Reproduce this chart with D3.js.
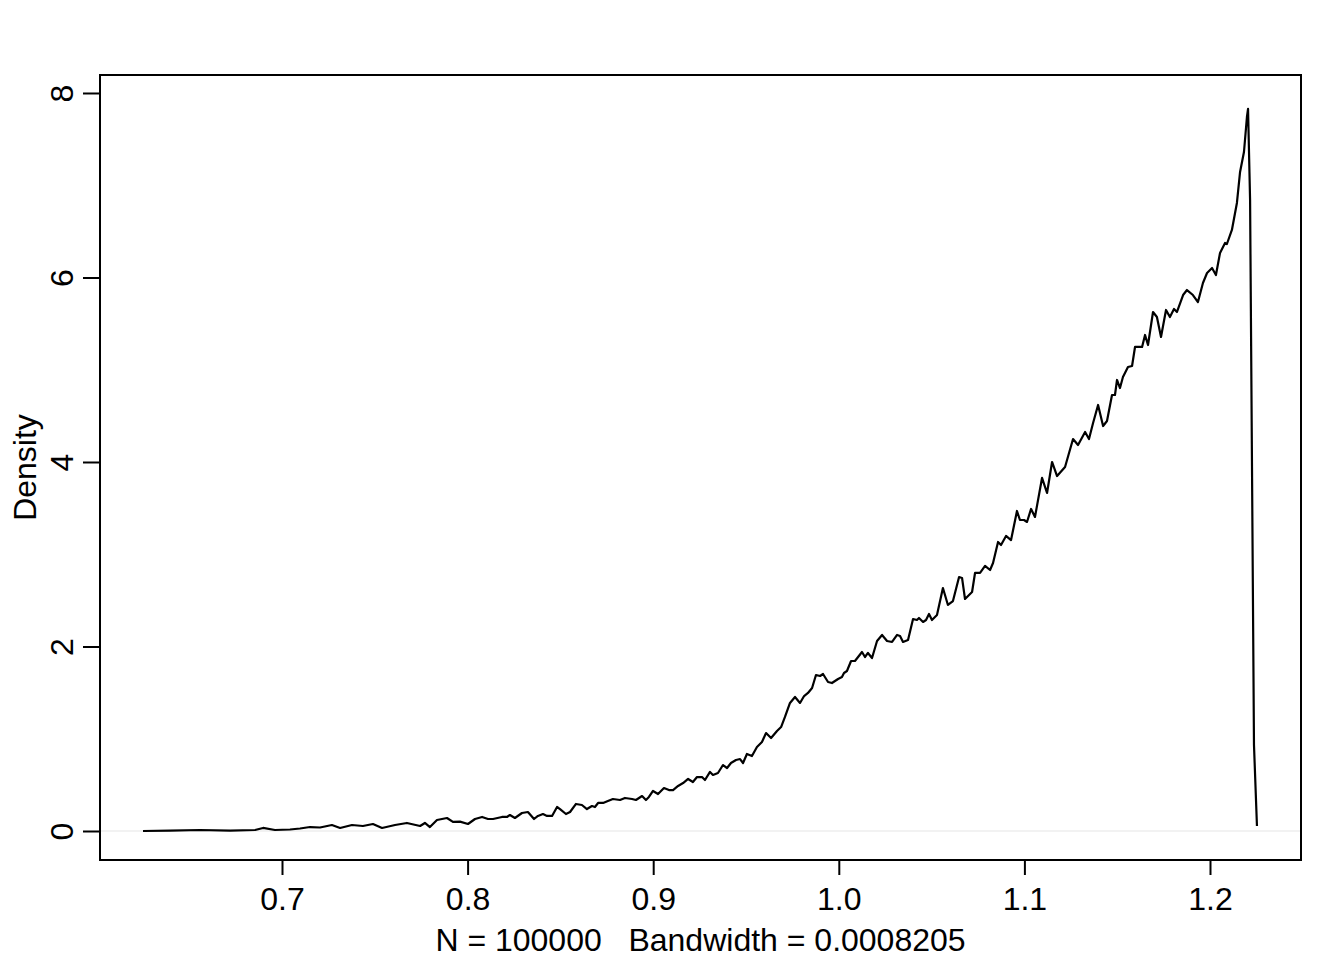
<!DOCTYPE html>
<html>
<head>
<meta charset="utf-8">
<script src="https://cdn.jsdelivr.net/npm/d3@7"></script>
<style>
  html, body { margin: 0; padding: 0; background: #fff; }
  svg text { font-family: "Liberation Sans", Arial, Helvetica, sans-serif; fill: #000; }
</style>
</head>
<body>
<svg id="chart" width="1344" height="960"></svg>
<script>
// Density estimate (x values)
const densX = [
  0.6251, 0.6397, 0.6558, 0.6720, 0.6855, 0.6898, 0.6962, 0.7043, 0.7097, 0.7151,
  0.7205, 0.7269, 0.7313, 0.7377, 0.7436, 0.7490, 0.7539, 0.7609, 0.7673, 0.7744,
  0.7770, 0.7797, 0.7835, 0.7889, 0.7921, 0.7959, 0.8002, 0.8040, 0.8078, 0.8110,
  0.8137, 0.8185, 0.8212, 0.8228, 0.8255, 0.8293, 0.8325, 0.8358, 0.8379, 0.8406,
  0.8428, 0.8455, 0.8482, 0.8498, 0.8530, 0.8552, 0.8584, 0.8616, 0.8643, 0.8670,
  0.8686, 0.8703, 0.8730, 0.8756, 0.8783, 0.8821, 0.8848, 0.8886, 0.8907, 0.8940,
  0.8961, 0.8977, 0.8999, 0.9026, 0.9058, 0.9085, 0.9107, 0.9134, 0.9161, 0.9188,
  0.9214, 0.9236, 0.9263, 0.9279, 0.9306, 0.9322, 0.9349, 0.9376, 0.9398, 0.9419,
  0.9446, 0.9468, 0.9484, 0.9505, 0.9532, 0.9559, 0.9586, 0.9608, 0.9635, 0.9667,
  0.9689, 0.9710, 0.9737, 0.9764, 0.9791, 0.9813, 0.9834, 0.9856, 0.9877, 0.9899,
  0.9915, 0.9942, 0.9963, 0.9996, 1.0017, 1.0028, 1.0044, 1.0066, 1.0087, 1.0125,
  1.0141, 1.0157, 1.0179, 1.0206, 1.0233, 1.0260, 1.0287, 1.0314, 1.0330, 1.0346,
  1.0373, 1.0400, 1.0421, 1.0432, 1.0454, 1.0470, 1.0486, 1.0502, 1.0529, 1.0561,
  1.0588, 1.0615, 1.0648, 1.0664, 1.0680, 1.0718, 1.0734, 1.0761, 1.0788, 1.0815,
  1.0831, 1.0858, 1.0874, 1.0901, 1.0928, 1.0960, 1.0976, 1.0998, 1.1014, 1.1036,
  1.1057, 1.1095, 1.1122, 1.1149, 1.1176, 1.1219, 1.1262, 1.1289, 1.1327, 1.1348,
  1.1370, 1.1397, 1.1424, 1.1445, 1.1472, 1.1488, 1.1499, 1.1515, 1.1531, 1.1558,
  1.1580, 1.1596, 1.1634, 1.1650, 1.1666, 1.1693, 1.1714, 1.1736, 1.1763, 1.1784,
  1.1806, 1.1822, 1.1855, 1.1876, 1.1908, 1.1935, 1.1962, 1.1984, 1.2011, 1.2032,
  1.2054, 1.2081, 1.2091, 1.2118, 1.2145, 1.2162, 1.2183, 1.2199, 1.2205, 1.2216,
  1.2237, 1.2253
];
// Density estimate (y values)
const densY = [
  0.000, 0.005, 0.011, 0.005, 0.011, 0.033, 0.011, 0.016, 0.027, 0.043,
  0.038, 0.065, 0.033, 0.065, 0.054, 0.076, 0.033, 0.065, 0.087, 0.054,
  0.087, 0.043, 0.119, 0.141, 0.098, 0.101, 0.076, 0.130, 0.152, 0.130,
  0.130, 0.152, 0.152, 0.173, 0.141, 0.195, 0.206, 0.130, 0.163, 0.184,
  0.163, 0.163, 0.260, 0.238, 0.184, 0.206, 0.293, 0.282, 0.238, 0.271,
  0.260, 0.304, 0.304, 0.325, 0.347, 0.336, 0.358, 0.347, 0.336, 0.379,
  0.336, 0.369, 0.434, 0.401, 0.466, 0.444, 0.444, 0.488, 0.520, 0.564,
  0.531, 0.585, 0.585, 0.553, 0.640, 0.607, 0.629, 0.715, 0.683, 0.737,
  0.770, 0.780, 0.737, 0.835, 0.813, 0.911, 0.965, 1.062, 1.008, 1.084,
  1.127, 1.236, 1.388, 1.453, 1.388, 1.463, 1.496, 1.550, 1.691, 1.680,
  1.702, 1.615, 1.604, 1.648, 1.669, 1.713, 1.734, 1.843, 1.843, 1.940,
  1.886, 1.930, 1.875, 2.060, 2.125, 2.060, 2.049, 2.125, 2.114, 2.049,
  2.070, 2.298, 2.287, 2.309, 2.266, 2.287, 2.352, 2.287, 2.341, 2.634,
  2.450, 2.493, 2.753, 2.743, 2.515, 2.591, 2.797, 2.797, 2.873, 2.829,
  2.905, 3.133, 3.100, 3.198, 3.154, 3.469, 3.371, 3.371, 3.350, 3.491,
  3.404, 3.827, 3.664, 4.000, 3.848, 3.946, 4.249, 4.184, 4.325, 4.249,
  4.423, 4.618, 4.390, 4.444, 4.726, 4.726, 4.889, 4.802, 4.921, 5.030,
  5.041, 5.247, 5.247, 5.377, 5.268, 5.626, 5.572, 5.355, 5.648, 5.572,
  5.659, 5.626, 5.810, 5.864, 5.810, 5.734, 5.940, 6.049, 6.103, 6.027,
  6.266, 6.374, 6.363, 6.515, 6.808, 7.144, 7.360, 7.740, 7.827, 6.840,
  0.932, 0.054
];
const xTicks = [0.7, 0.8, 0.9, 1.0, 1.1, 1.2];
const xTickLabels = ["0.7", "0.8", "0.9", "1.0", "1.1", "1.2"];
const yTicks = [0, 2, 4, 6, 8];
const yTickLabels = ["0", "2", "4", "6", "8"];
const yTitle = "Density";
const subTitle = "N = 100000   Bandwidth = 0.0008205";

const svg = d3.select("#chart");
const L = 100, R = 1301, T = 75, B = 860;
const FS = 32;

const x = d3.scaleLinear().domain([0.60194, 1.24903]).range([L, R]);
const y = d3.scaleLinear().domain([-0.3144, 8.195]).range([B, T]);

// zero line
svg.append("line")
  .attr("x1", L).attr("x2", R)
  .attr("y1", y(0)).attr("y2", y(0))
  .attr("stroke", "#e5e5e5").attr("stroke-width", 1);

// density curve
const pts = densX.map((d, i) => [d, densY[i]]);
svg.append("path")
  .datum(pts)
  .attr("fill", "none")
  .attr("stroke", "#000")
  .attr("stroke-width", 2.2)
  .attr("stroke-linejoin", "round")
  .attr("d", d3.line().x(d => x(d[0])).y(d => y(d[1])));

// box
svg.append("rect")
  .attr("x", L).attr("y", T)
  .attr("width", R - L).attr("height", B - T)
  .attr("fill", "none").attr("stroke", "#000").attr("stroke-width", 2);

// x axis
const xAxis = d3.axisBottom(x).tickValues(xTicks)
  .tickFormat((d, i) => xTickLabels[i]).tickSize(15).tickSizeOuter(0);
const gx = svg.append("g").attr("transform", `translate(0,${B})`).call(xAxis);
gx.select(".domain")
  .attr("d", `M${x(xTicks[0])},0H${x(xTicks[xTicks.length - 1])}`)
  .attr("stroke-width", 2);
gx.selectAll(".tick line").attr("stroke-width", 2);
gx.selectAll(".tick text")
  .attr("font-size", FS).attr("font-family", "Liberation Sans, Arial, sans-serif")
  .attr("fill", "#000").attr("dy", null).attr("y", 50);

// y axis
const yAxis = d3.axisLeft(y).tickValues(yTicks)
  .tickFormat((d, i) => yTickLabels[i]).tickSize(17).tickSizeOuter(0);
const gy = svg.append("g").attr("transform", `translate(${L},0)`).call(yAxis);
gy.select(".domain")
  .attr("d", `M0,${y(yTicks[0])}V${y(yTicks[yTicks.length - 1])}`)
  .attr("stroke-width", 2);
gy.selectAll(".tick line").attr("stroke-width", 2);
gy.selectAll(".tick text")
  .attr("font-size", FS).attr("font-family", "Liberation Sans, Arial, sans-serif")
  .attr("fill", "#000")
  .attr("x", null).attr("dy", null)
  .attr("text-anchor", "middle")
  .attr("transform", "translate(-27,0) rotate(-90)");

// y title
svg.append("text")
  .attr("transform", `translate(36,${(T + B) / 2}) rotate(-90)`)
  .attr("text-anchor", "middle")
  .attr("font-size", FS)
  .text(yTitle);

// sub title
svg.append("text")
  .attr("x", (L + R) / 2).attr("y", 951)
  .attr("text-anchor", "middle")
  .attr("font-size", FS)
  .style("white-space", "pre")
  .text(subTitle);
</script>
</body>
</html>
